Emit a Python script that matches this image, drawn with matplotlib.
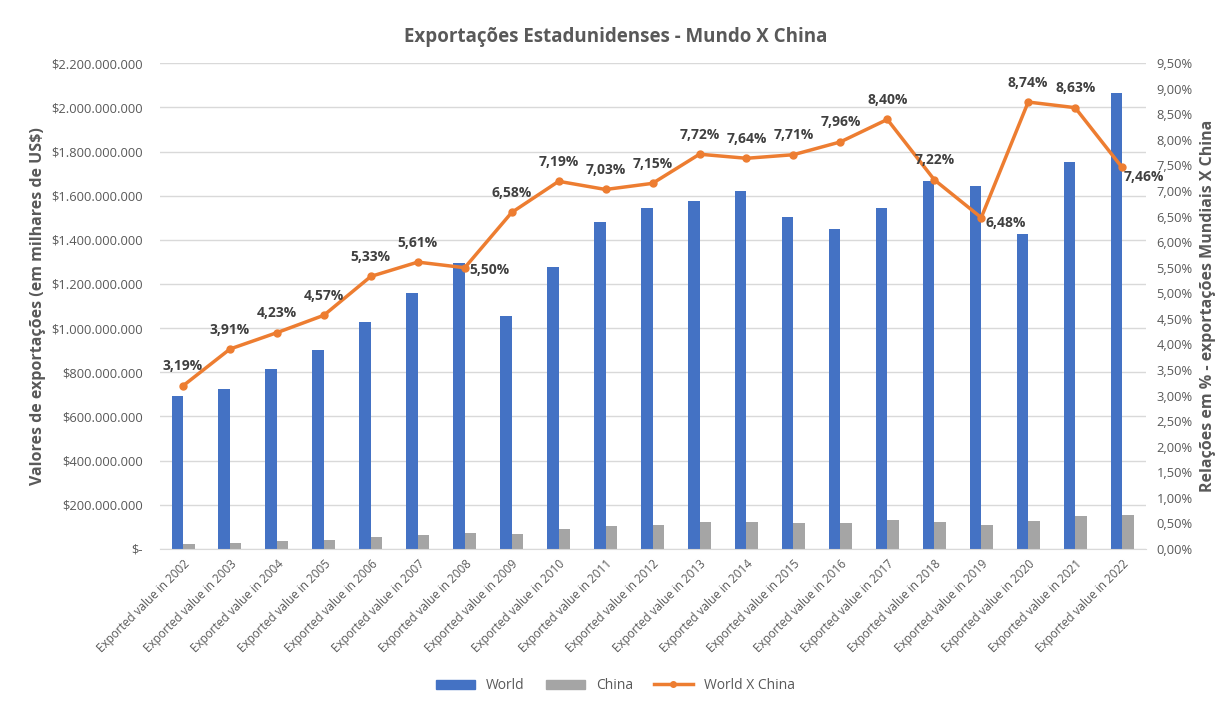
import numpy as np
import matplotlib.pyplot as plt
from matplotlib.ticker import FuncFormatter, MultipleLocator
from matplotlib.lines import Line2D
from matplotlib.patches import Patch

plt.rcParams['font.family'] = ['Open Sans', 'DejaVu Sans']

# data (world / china exports, thousands of US$)
years = list(range(2002, 2023))
labels = ["Exported value in %d" % y for y in years]
world = [693e6, 724e6, 814e6, 901e6, 1026e6, 1159e6, 1296e6, 1056e6, 1278e6, 1482e6,
         1545e6, 1578e6, 1620e6, 1503e6, 1451e6, 1546e6, 1665e6, 1643e6, 1425e6, 1754e6, 2065e6]
china = [22.1e6, 28.3e6, 34.4e6, 41.2e6, 54.7e6, 65.0e6, 71.3e6, 69.5e6, 91.9e6, 104.1e6,
         110.5e6, 121.8e6, 123.8e6, 115.9e6, 115.5e6, 129.9e6, 120.2e6, 106.5e6, 124.6e6, 151.4e6, 154.0e6]
ratio = [3.19, 3.91, 4.23, 4.57, 5.33, 5.61, 5.50, 6.58, 7.19, 7.03,
         7.15, 7.72, 7.64, 7.71, 7.96, 8.40, 7.22, 6.48, 8.74, 8.63, 7.46]
# labels placed to the right of the point instead of above
right_labels = {2008: (3, -2), 2019: (3, -4), 2022: (1, -7)}

blue = '#4472C4'
gray = '#A5A5A5'
orange = '#ED7D31'
txt = '#595959'

fig = plt.figure(figsize=(12.31, 7.02), dpi=100)
ax = fig.add_axes([0.1296, 0.218, 0.8010, 0.692])
ax2 = ax.twinx()

x = np.arange(len(years))
w = 0.245
ax.bar(x - w / 2, world, w, color=blue, zorder=2)
ax.bar(x + w / 2, china, w, color=gray, zorder=2)

ax.set_xlim(-0.5, len(years) - 0.5)
ax.set_ylim(0, 2.2e9)
ax.yaxis.set_major_locator(MultipleLocator(2e8))


def money(v, pos):
    if v == 0:
        return '$-'
    return '$' + format(int(round(v)), ',').replace(',', '.')


ax.yaxis.set_major_formatter(FuncFormatter(money))
ax.grid(axis='y', color='#D9D9D9', linewidth=1, zorder=0)
ax.set_axisbelow(True)
ax.set_xticks(x)
ax.set_xticklabels(labels, rotation=45, ha='right', rotation_mode='anchor', fontsize=8.5, color=txt)
ax.tick_params(axis='y', labelsize=9.3, colors=txt, length=0, pad=12)
ax.tick_params(axis='x', length=0, pad=6)
for s in ['top', 'left', 'right']:
    ax.spines[s].set_visible(False)
ax.spines['bottom'].set_color('#D9D9D9')
ax.set_ylabel('Valores de exportações (em milhares de US$)', fontsize=11.5, fontweight='bold', color=txt, labelpad=4)

ax2.plot(x, ratio, color=orange, linewidth=2.5, marker='o', markersize=5, zorder=3)
ax2.set_ylim(0, 9.5)
ax2.yaxis.set_major_locator(MultipleLocator(0.5))
ax2.yaxis.set_major_formatter(FuncFormatter(lambda v, p: ('%.2f%%' % v).replace('.', ',')))
ax2.tick_params(axis='y', labelsize=9.3, colors=txt, length=0, pad=8)
for s in ['top', 'left', 'right', 'bottom']:
    ax2.spines[s].set_visible(False)
ax2.set_ylabel('Relações em % - exportações Mundiais X China', fontsize=11.5, fontweight='bold', color=txt, labelpad=5)

for xi, yr, r in zip(x, years, ratio):
    s = ('%.2f%%' % r).replace('.', ',')
    if yr in right_labels:
        ax2.annotate(s, (xi, r), xytext=right_labels[yr], textcoords='offset points', ha='left', va='center',
                     fontsize=10, fontweight='bold', color='#404040')
    else:
        ax2.annotate(s, (xi, r), xytext=(0, 9), textcoords='offset points', ha='center', va='bottom',
                     fontsize=10, fontweight='bold', color='#404040')

fig.suptitle('Exportações Estadunidenses - Mundo X China', y=0.962, fontsize=13.5, fontweight='bold', color=txt)

handles = [Patch(color=blue, label='World'), Patch(color=gray, label='China'),
           Line2D([0], [0], color=orange, linewidth=2.5, marker='o', markersize=4, label='World X China')]
leg = fig.legend(handles=handles, loc='center', bbox_to_anchor=(0.5, 0.023), ncol=3, frameon=False,
                 fontsize=10, handlelength=2.8, handleheight=0.7, columnspacing=1.5)
for t in leg.get_texts():
    t.set_color(txt)

fig.savefig('out.png', dpi=100)
